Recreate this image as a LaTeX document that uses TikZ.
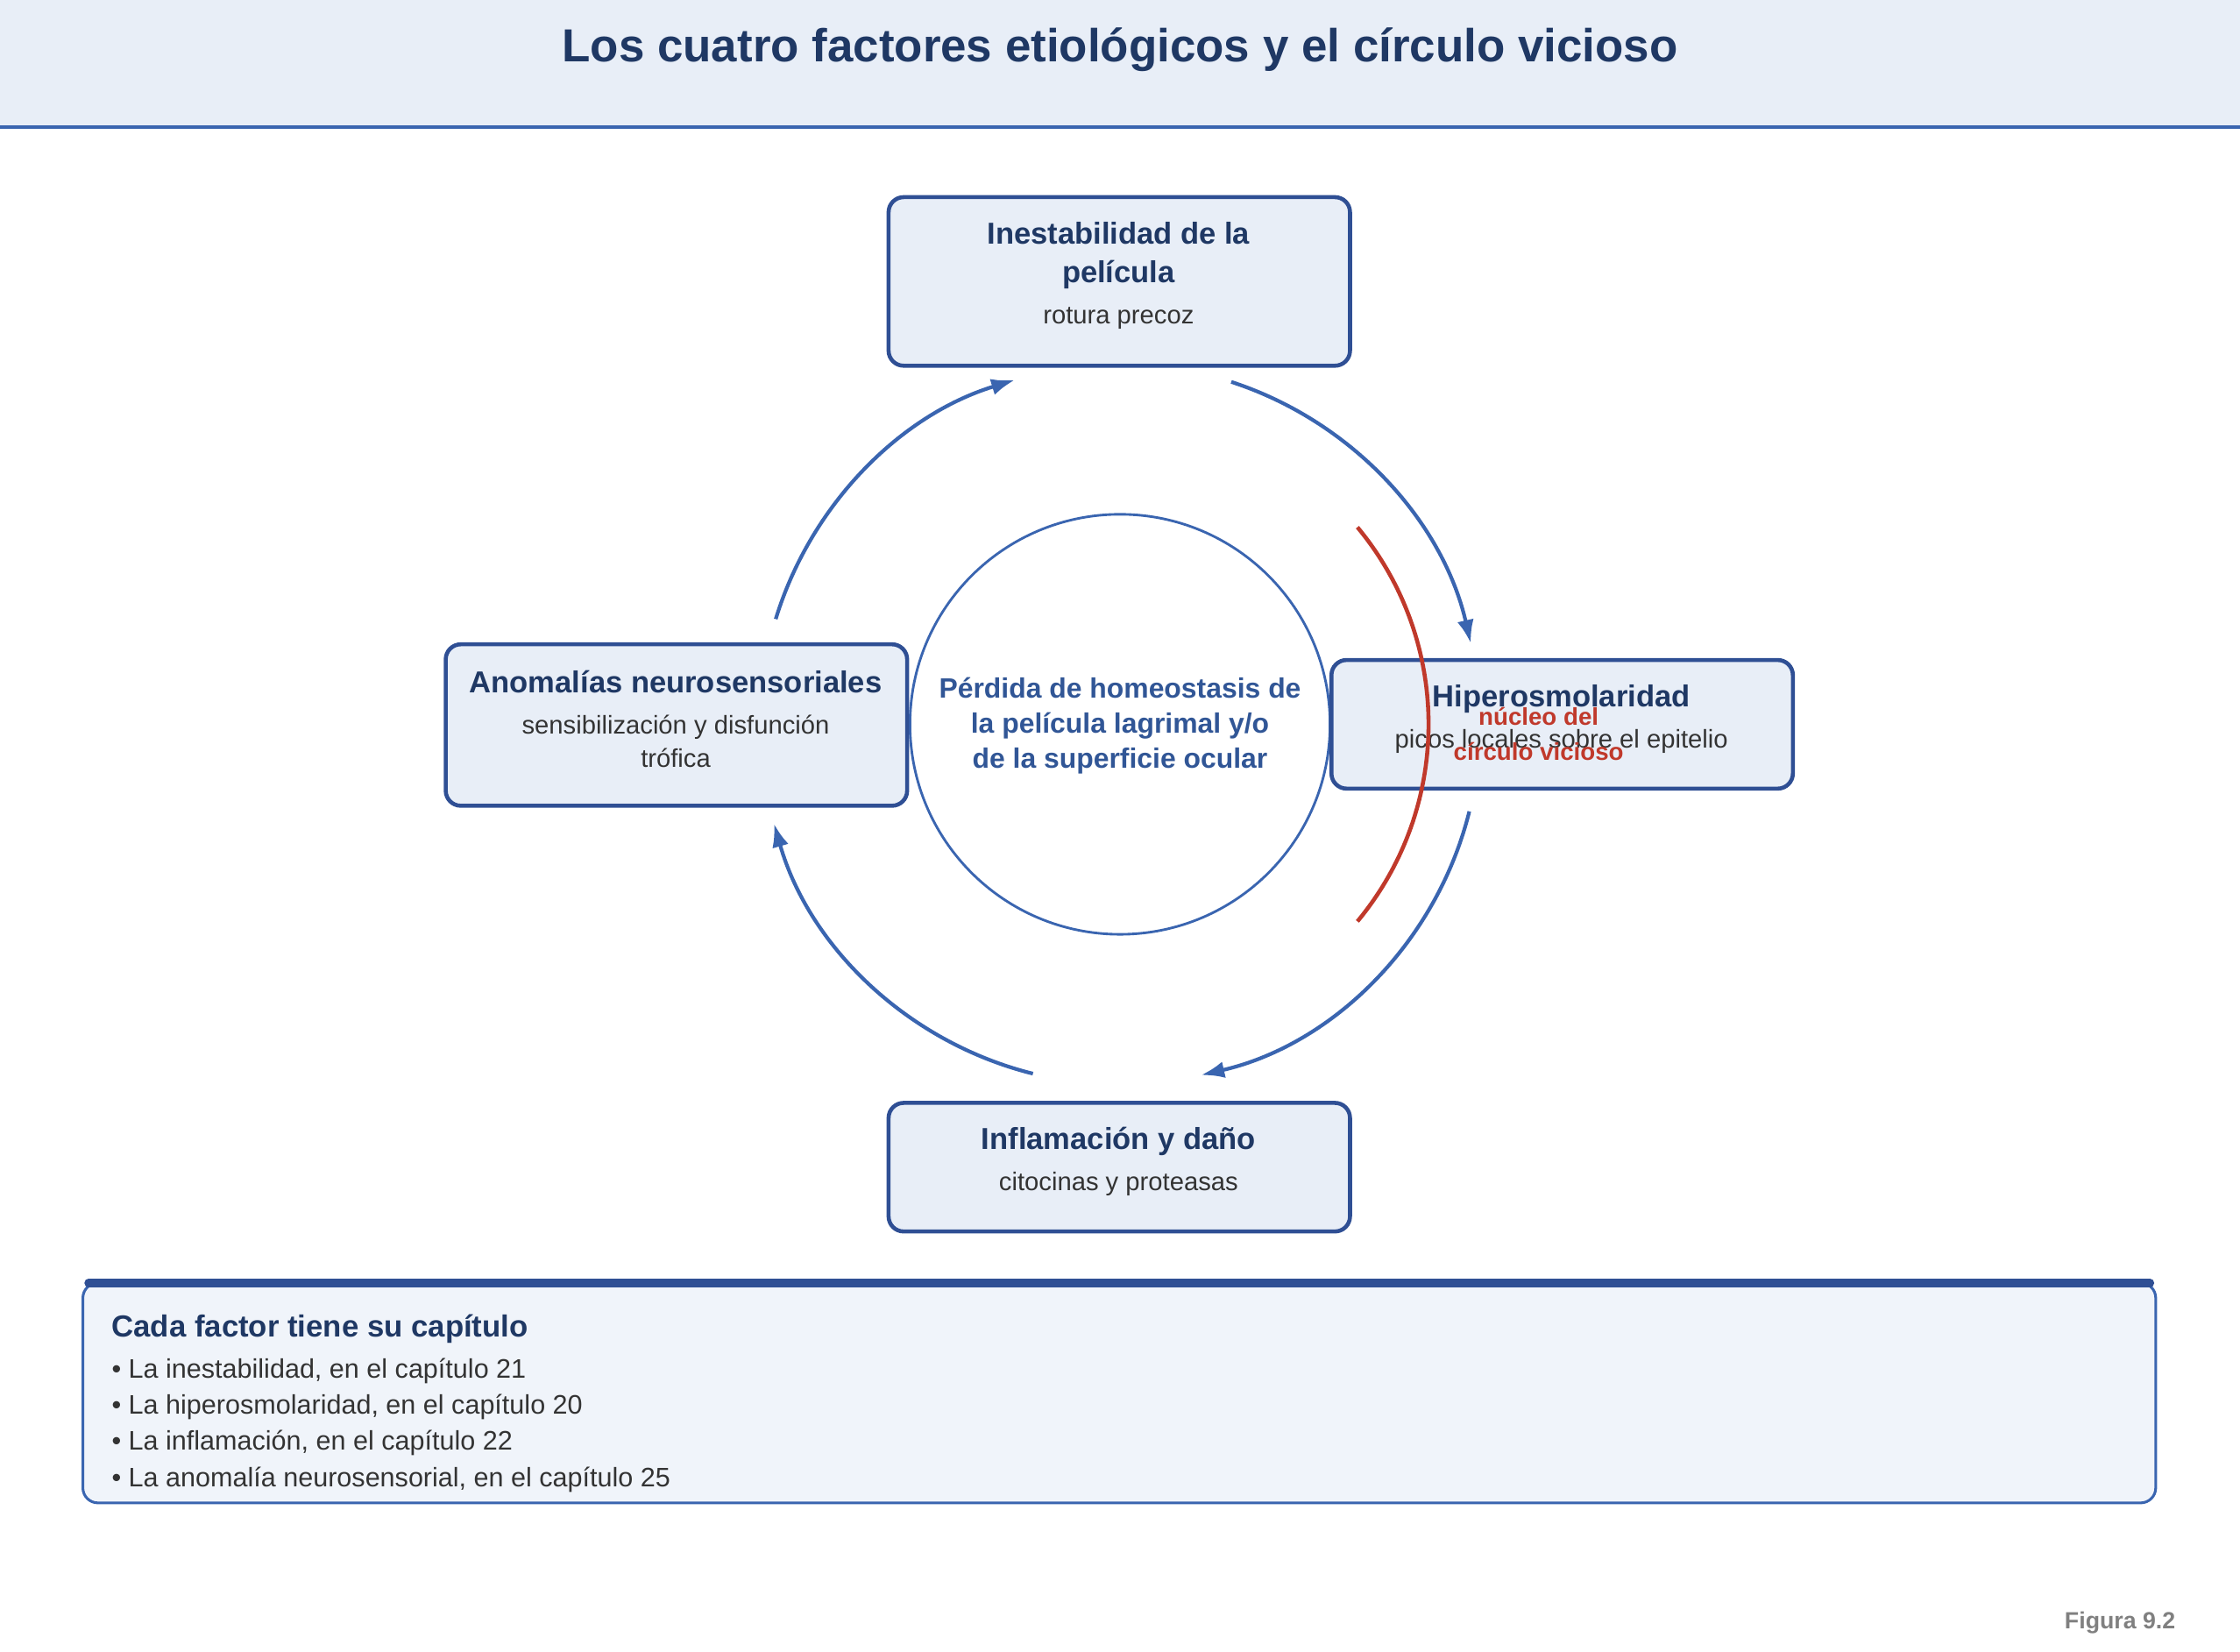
\documentclass[tikz,border=0pt]{standalone}
\usepackage{fontspec}
\setmainfont{Liberation Sans}
\begin{document}
\begin{tikzpicture}[x=0.03cm,y=-0.03cm,
 box/.style={draw=boxb,fill=boxf,line width=2.4pt,rounded corners=9pt},
 hd/.style={font=\fontsize{18.1}{23}\selectfont\bfseries,text=navy,align=center},
 sb/.style={font=\fontsize{15.3}{20}\selectfont,text=txt,align=center},
 bl/.style={anchor=west,font=\fontsize{16}{18}\selectfont,text=txt},
 arr/.style={draw=blu,line width=2.2pt,-{Latex[length=14pt,width=10pt]}}]
\usetikzlibrary{arrows.meta}
\definecolor{boxb}{HTML}{2F4F94}\definecolor{boxf}{HTML}{E8EEF7}
\definecolor{navy}{HTML}{1F3864}\definecolor{blu}{HTML}{3A65B0}
\definecolor{txt}{HTML}{333333}\definecolor{rd}{HTML}{C0392B}
\definecolor{pan}{HTML}{F0F4FA}
\useasboundingbox (0,0) rectangle (1568,1156);
\fill[boxf] (0,0) rectangle (1568,89);
\draw[blu,line width=2.5pt] (0,89) -- (1568,89);
\node[font=\fontsize{27.7}{32}\selectfont\bfseries,text=navy] (title) at (784,35) {Los cuatro factores etiológicos y el círculo vicioso};
% center circle
\node[draw=blu,line width=1.5pt,circle,minimum size=294*0.03cm,inner sep=0pt] (c) at (784,507) {};
\node[font=\fontsize{16.7}{21}\selectfont\bfseries,text=blu!85!black,align=center] (ct) at (784,508) {Pérdida de homeostasis de\\la película lagrimal y/o\\de la superficie ocular};
% boxes
\draw[box] (622,138) rectangle (945,256);
\node[hd] (t1) at (783,179) {Inestabilidad de la\\película};
\node[sb] (t2) at (783,223) {rotura precoz};
\draw[box] (932,462) rectangle (1255,552);
\node[hd] (r1) at (1093,489) {Hiperosmolaridad};
\node[sb] (r2) at (1093,519) {picos locales sobre el epitelio};
\draw[box] (312,451) rectangle (635,564);
\node[hd] (l1) at (473,477) {Anomalías neurosensoriales};
\node[sb] (l2) at (473,519) {sensibilización y disfunción\\trófica};
\draw[box] (622,772) rectangle (945,862);
\node[hd] (b1) at (783,799) {Inflamación y daño};
\node[sb] (b2) at (783,829) {citocinas y proteasas};
% arrows
\coordinate (o) at (784,507);
\draw[arr] ([shift={(-72:252)}]o) arc[start angle=-72,end angle=-13,radius=252];
\draw[arr] ([shift={(14:252)}]o) arc[start angle=14,end angle=77,radius=252];
\draw[arr] ([shift={(104:252)}]o) arc[start angle=104,end angle=164,radius=252];
\draw[arr] ([shift={(-163:252)}]o) arc[start angle=-163,end angle=-107,radius=252];
% red arc
\draw[rd,line width=2.4pt] ([shift={(-39.7:216)}]o) arc[start angle=-39.7,end angle=39.7,radius=216];
\node[font=\fontsize{14.5}{21}\selectfont\bfseries,text=rd,align=center] (nuc) at (1077,514) {núcleo del\\círculo vicioso};
% panel
\draw[draw=blu,fill=pan,line width=1.6pt,rounded corners=9pt] (58,898) rectangle (1509,1052);
\draw[boxb,line width=5pt,line cap=round] (62,898) -- (1505,898);
\node[anchor=west,font=\fontsize{18.2}{20}\selectfont\bfseries,text=navy,inner sep=0pt] (pt) at (78,930) {Cada factor tiene su capítulo};
\node[bl,inner sep=0pt] (p1) at (78,960) {• La inestabilidad, en el capítulo 21};
\node[bl,inner sep=0pt] (p2) at (78,985) {• La hiperosmolaridad, en el capítulo 20};
\node[bl,inner sep=0pt] (p3) at (78,1010) {• La inflamación, en el capítulo 22};
\node[bl,inner sep=0pt] (p4) at (78,1036) {• La anomalía neurosensorial, en el capítulo 25};
\node[anchor=east,font=\fontsize{14}{16}\selectfont\bfseries,text=gray,inner sep=0pt] (fig) at (1523,1136) {Figura 9.2};
\end{tikzpicture}
\end{document}
